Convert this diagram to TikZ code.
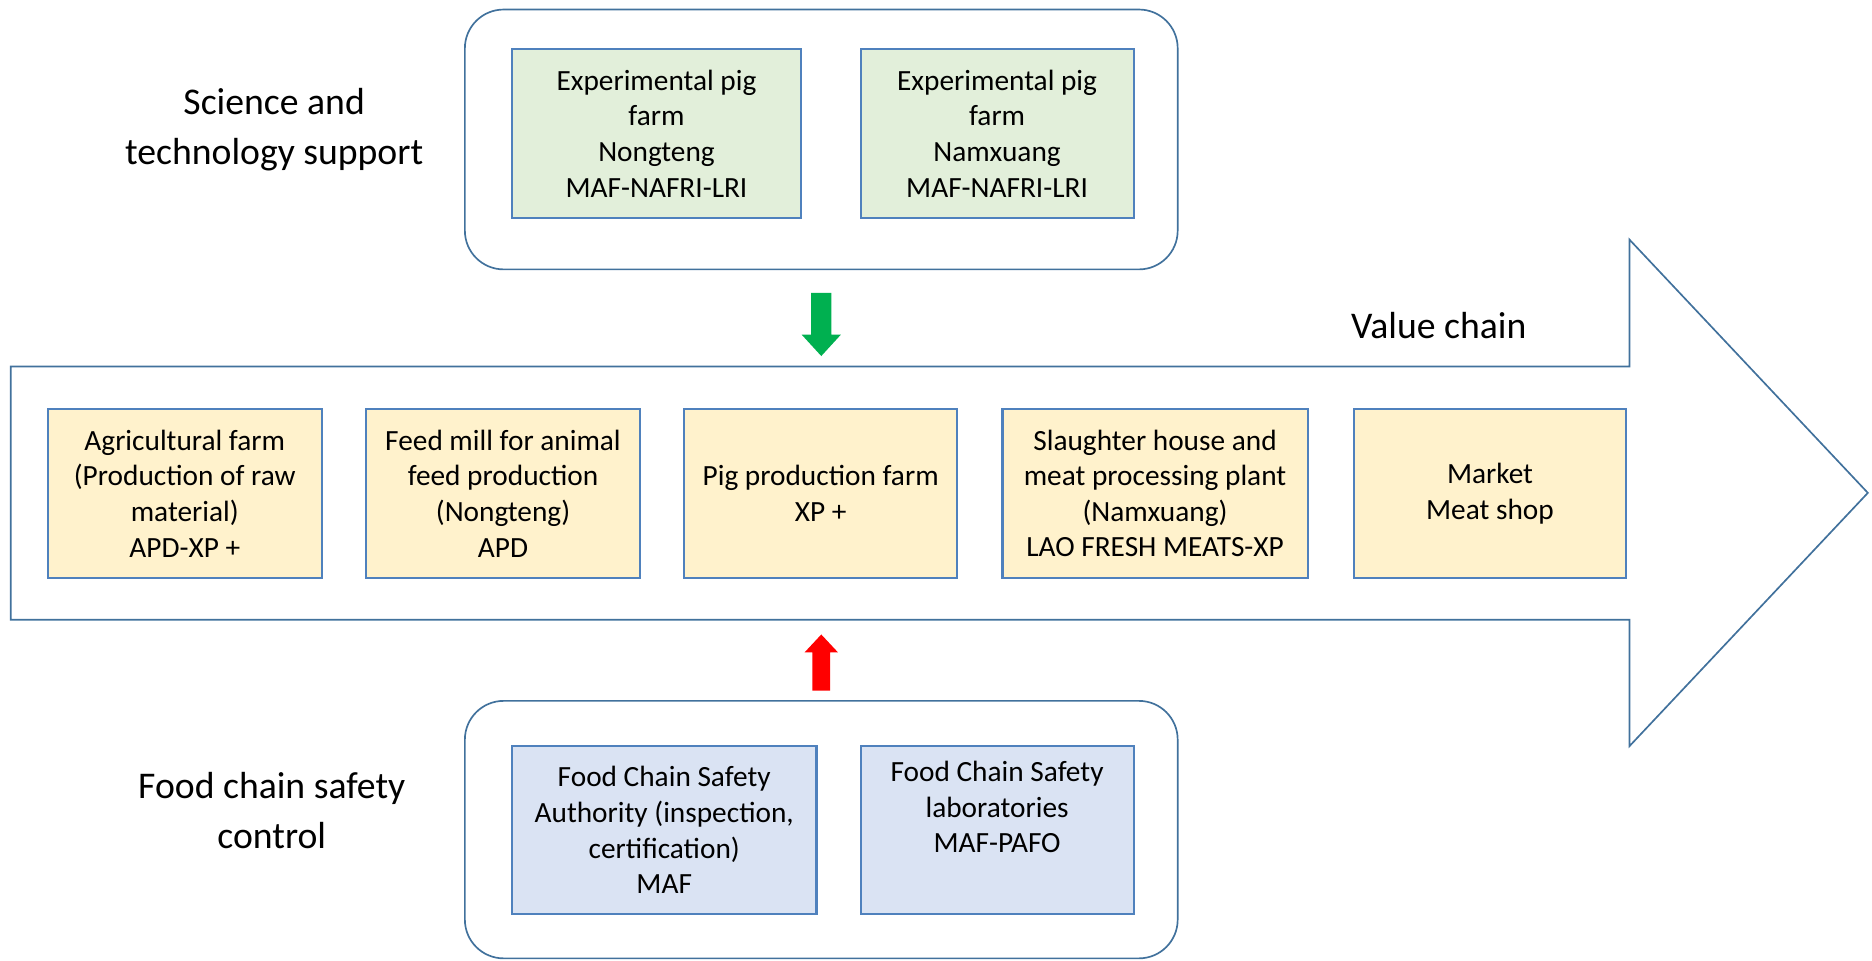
\documentclass[tikz,border=0pt]{standalone}
\usepackage{fontspec}
\setmainfont{Carlito}
\usepackage{tikz}
\usepackage{color}

\definecolor{panelline}{RGB}{65,113,156}
\definecolor{boxline}{RGB}{79,129,189}
\definecolor{greenfill}{RGB}{226,239,218}
\definecolor{yellowfill}{RGB}{255,242,204}
\definecolor{bluefill}{RGB}{218,227,243}
\definecolor{arrowgreen}{RGB}{0,176,80}
\definecolor{arrowred}{RGB}{255,0,0}

\tikzset{
  panel/.style={draw=panelline, line width=0.8pt, rounded corners=0.65cm, minimum width=11.96cm, inner sep=0},
  cell/.style={draw=boxline, line width=1pt, inner sep=0, align=center, minimum height=2.84cm, font=\fontsize{14}{17}\selectfont},
  greencell/.style={cell, fill=greenfill},
  yellowcell/.style={cell, fill=yellowfill},
  bluecell/.style={cell, fill=bluefill},
  sidelabel/.style={align=center, font=\fontsize{18}{24}\selectfont}
}

\begin{document}
\begin{tikzpicture}
\useasboundingbox (0,0) rectangle (31.41,-16.11);
% science and technology support
\node (support) at (13.78,-2.34) [panel, minimum height=4.36cm] {};
\node (pignongteng) at (11.015,-2.24) [greencell, minimum width=4.85cm] {Experimental pig\\farm\\Nongteng\\MAF-NAFRI-LRI};
\node (pignamxuang) at (16.73,-2.24) [greencell, minimum width=4.58cm] {Experimental pig\\farm\\Namxuang\\MAF-NAFRI-LRI};
\node (science) at (4.6,-2.18) [sidelabel] {Science and\\technology support};
% value chain
\draw[draw=panelline, line width=0.8pt, fill=white] (0.18,-6.15)--(27.34,-6.15)--(27.34,-4.02)--(31.34,-8.27)--(27.34,-12.52)--(27.34,-10.4)--(0.18,-10.4)--cycle;
\node (valuechain) at (24.14,-5.46) [font=\fontsize{18}{22}\selectfont] {Value chain};
\node (agrifarm) at (3.1,-8.28) [yellowcell, minimum width=4.6cm] {Agricultural farm\\(Production of raw\\material)\\APD-XP +};
\node (feedmill) at (8.44,-8.28) [yellowcell, minimum width=4.6cm] {Feed mill for animal\\feed production\\(Nongteng)\\APD};
\node (pigfarm) at (13.77,-8.28) [yellowcell, minimum width=4.58cm] {Pig production farm\\XP +};
\node (slaughter) at (19.38,-8.28) [yellowcell, minimum width=5.12cm] {Slaughter house and\\meat processing plant\\(Namxuang)\\LAO FRESH MEATS-XP};
\node (market) at (25.0,-8.28) [yellowcell, minimum width=4.56cm] {Market\\Meat shop};
% food chain safety control
\node (safety) at (13.78,-13.92) [panel, minimum height=4.32cm] {};
\node (authority) at (11.145,-13.93) [bluecell, minimum width=5.11cm, minimum height=2.82cm] {Food Chain Safety\\Authority (inspection,\\certification)\\MAF};
\node (labs) at (16.73,-13.93) [bluecell, minimum width=4.58cm, minimum height=2.82cm] {Food Chain Safety\\laboratories\\MAF-PAFO\\ \strut};
\node (foodsafety) at (4.56,-13.6) [sidelabel] {Food chain safety\\control};
% arrows
\fill[arrowgreen] ([xshift=-0.17cm,yshift=-0.38cm]support.south) -- ++(0.34,0) -- ++(0,-0.7) -- ++(0.16,0) -- ++(-0.33,-0.36) -- ++(-0.33,0.36) -- ++(0.16,0) -- cycle;
\fill[arrowred] ([xshift=-0.15cm,yshift=0.16cm]safety.north) -- ++(0.3,0) -- ++(0,0.64) -- ++(0.13,0) -- ++(-0.28,0.3) -- ++(-0.28,-0.3) -- ++(0.13,0) -- cycle;
\end{tikzpicture}
\end{document}
